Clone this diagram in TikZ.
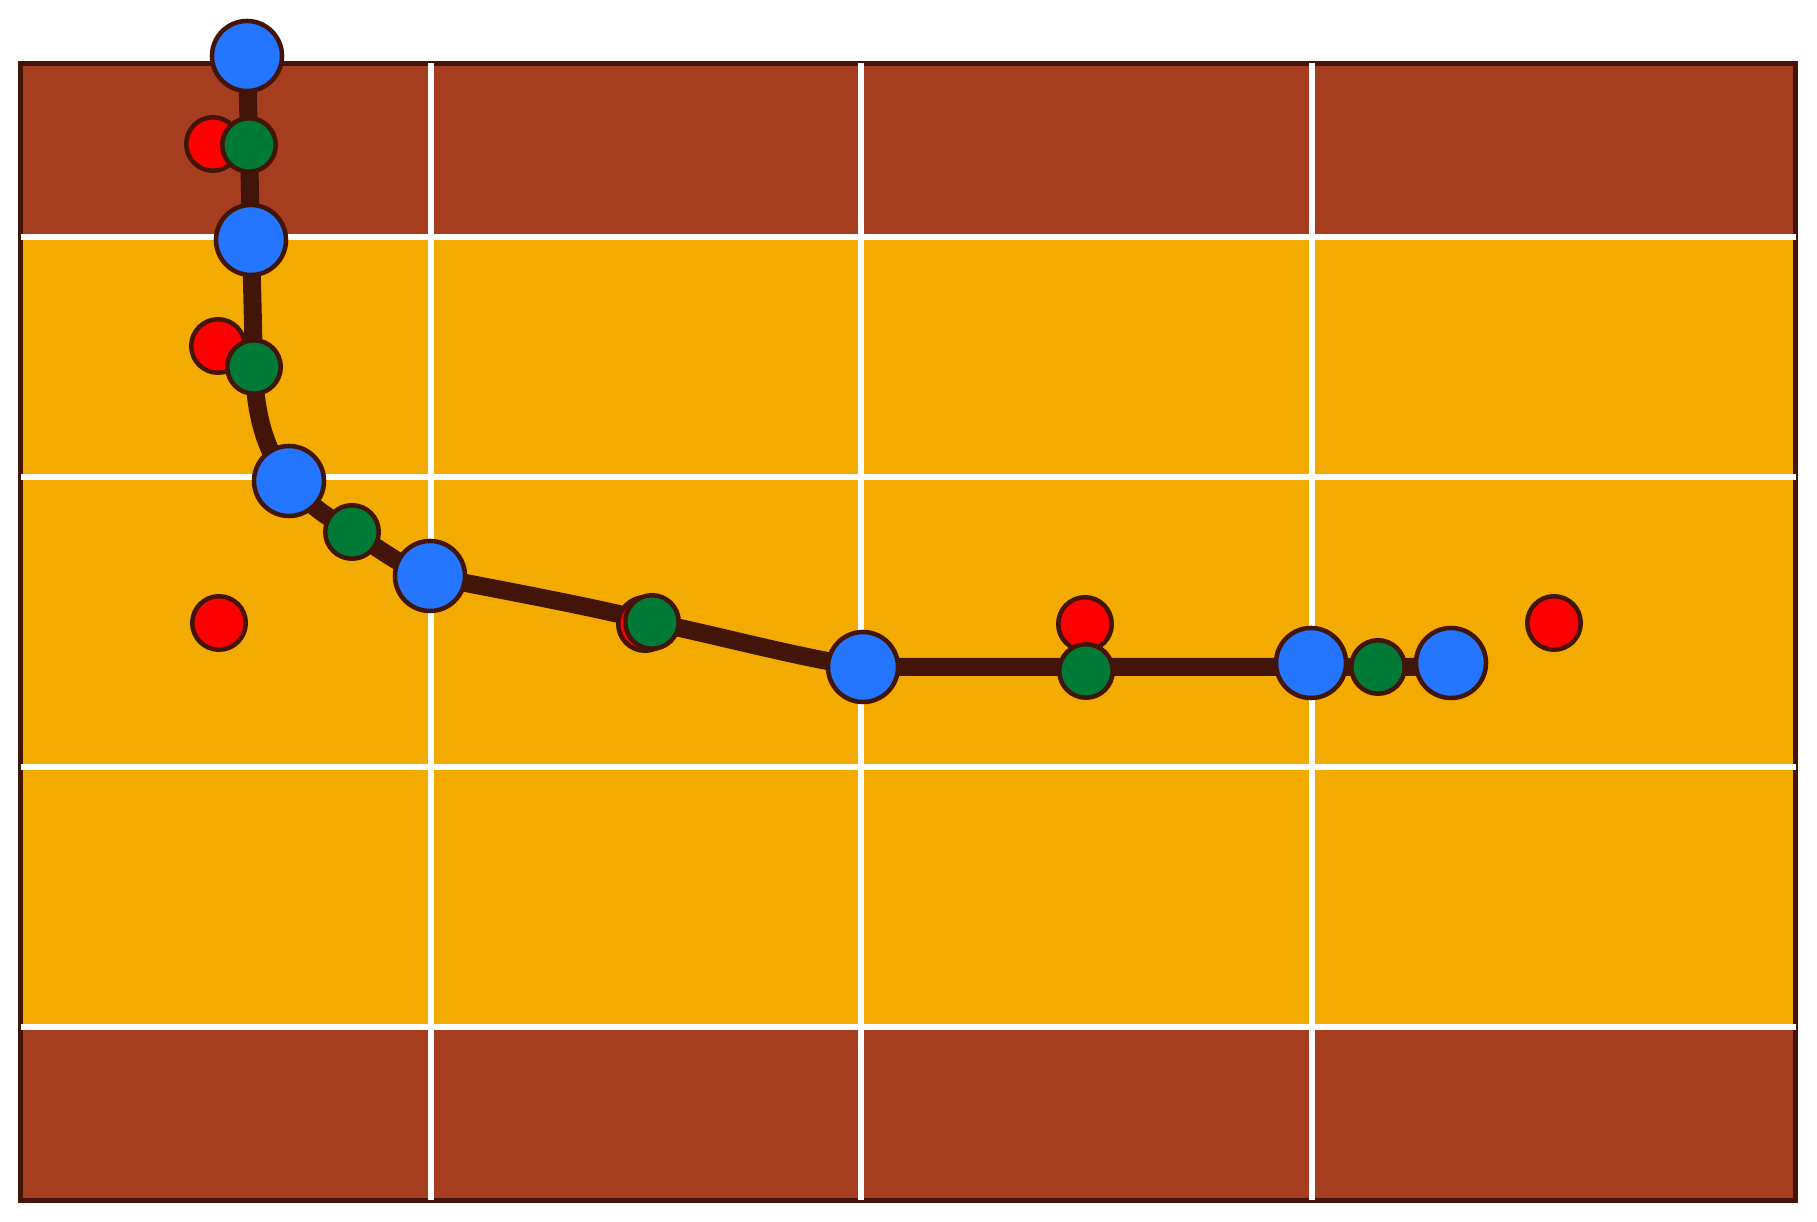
\documentclass[tikz,border=0pt]{standalone}
\definecolor{darkline}{HTML}{431408}
\definecolor{brownfill}{HTML}{A63D1E}
\definecolor{orangefill}{HTML}{F4AB00}
\definecolor{dotblue}{HTML}{2475FF}
\definecolor{dotgreen}{HTML}{007A37}
\definecolor{dotred}{HTML}{FF0000}
\tikzset{
  gridline/.style={white,line width=0.065cm},
  framebox/.style={darkline,line width=0.05cm},
  pathline/.style={darkline,line width=0.18cm,line join=round,line cap=round},
  dot/.style={circle,draw=darkline,line width=0.045cm,inner sep=0pt},
  bluedot/.style={dot,fill=dotblue,minimum size=0.70cm},
  greendot/.style={dot,fill=dotgreen,minimum size=0.535cm},
  reddot/.style={dot,fill=dotred,minimum size=0.535cm}
}
\begin{document}
\begin{tikzpicture}[x=0.01cm,y=-0.01cm]
\useasboundingbox (0,0) rectangle (1817,1222);
% background bands
\fill[brownfill] (20.5,63.5) rectangle (1795.5,237);
\fill[orangefill] (20.5,237) rectangle (1795.5,1027);
\fill[brownfill] (20.5,1027) rectangle (1795.5,1200.5);
\draw[framebox] (20.5,63.5) rectangle (1795.5,1200.5);
% grid
\foreach \yy in {237,477,767,1027} \draw[gridline] (20.5,\yy) -- (1795.5,\yy);
\foreach \xx in {431,861,1312} \draw[gridline] (\xx,63.5) -- (\xx,1200.5);
% point positions
\coordinate (cB1) at (247,56);
\coordinate (cG1) at (249,145);
\coordinate (cB2) at (251,240);
\coordinate (cG2) at (254,367);
\coordinate (cB3) at (289,481);
\coordinate (cG3) at (352,532);
\coordinate (cB4) at (430,576);
\coordinate (cG4) at (652,622);
\coordinate (cB5) at (863,667);
\coordinate (cG5) at (1086,671);
\coordinate (cB6) at (1311,663);
\coordinate (cG6) at (1378,667);
\coordinate (cB7) at (1451,663);
\coordinate (cEnd) at (1451,667);
\coordinate (cR1) at (213,144);
\coordinate (cR2) at (218,346);
\coordinate (cR3) at (219,623);
\coordinate (cR4) at (645,624);
\coordinate (cR5) at (1085,624);
\coordinate (cR6) at (1554,623);
% trajectory
\draw[pathline] (cB1) -- (cG1) -- (cB2) -- (cG2)
  .. controls (255,420) and (268,455) .. (cB3)
  .. controls (306,502) and (322,514) .. (cG3)
  .. controls (385,552) and (402,567) .. (cB4)
  .. controls (500,590) and (590,606) .. (cG4)
  .. controls (720,636) and (800,658) .. (cB5)
  .. controls (900,667) and (930,667) .. (960,667) -- (cEnd);
% red dots
\foreach \n in {R1,R2,R3,R4,R5,R6} \node[reddot] (\n) at (c\n) {};
% green dots
\foreach \n in {G1,G2,G3,G4,G5,G6} \node[greendot] (\n) at (c\n) {};
% blue dots
\foreach \n in {B1,B2,B3,B4,B5,B6,B7} \node[bluedot] (\n) at (c\n) {};
\end{tikzpicture}
\end{document}
